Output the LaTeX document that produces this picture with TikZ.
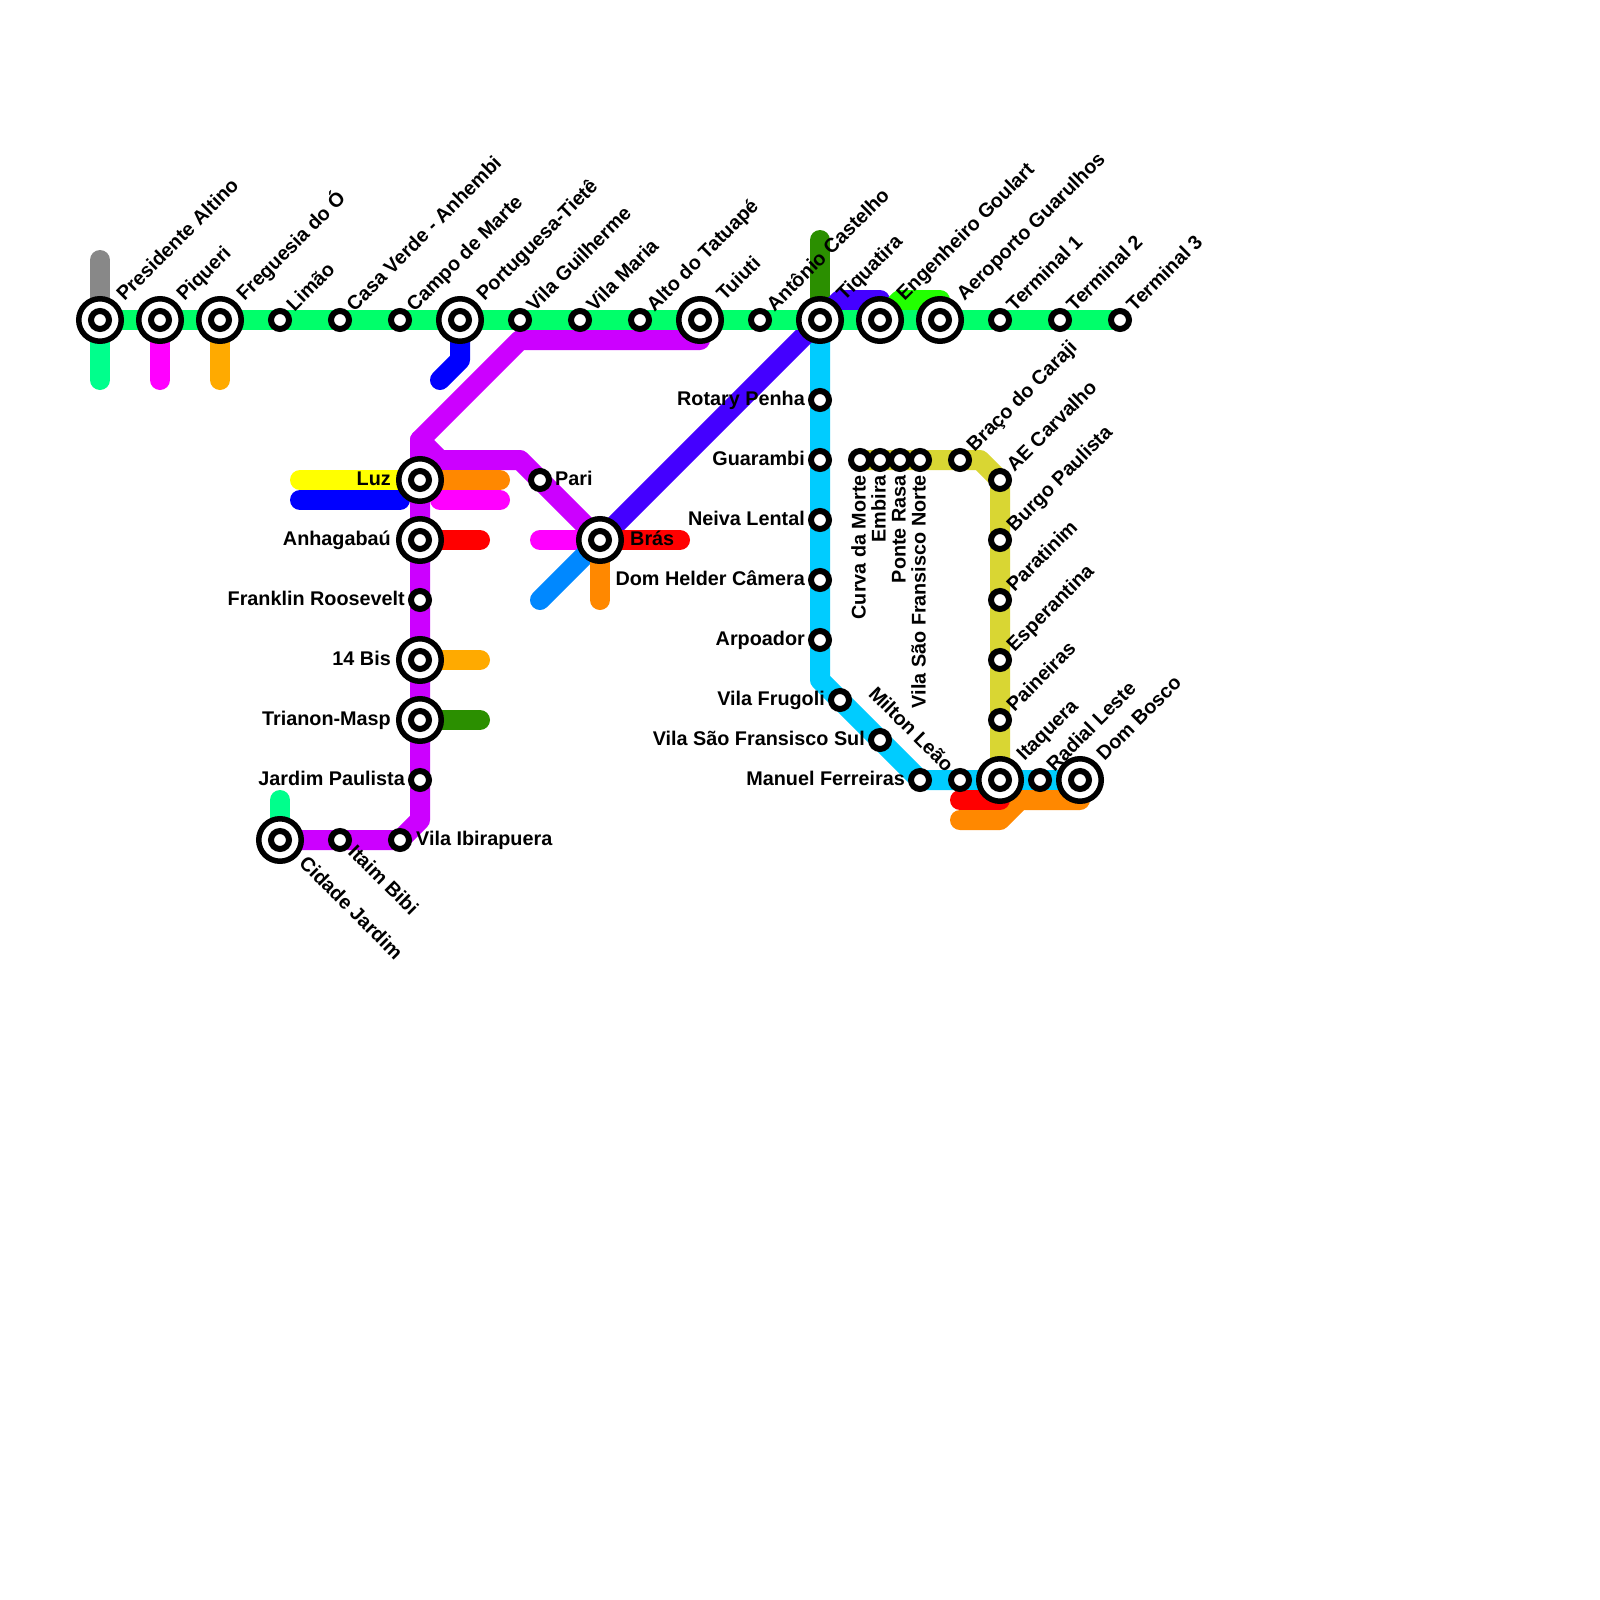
\documentclass[tikz,border=0pt]{standalone}
\usepackage{fontspec}
\setmainfont{Liberation Sans}
\definecolor{cmain}{HTML}{00FF6A}
\definecolor{cspring}{HTML}{00FF8C}
\definecolor{cgray}{HTML}{888888}
\definecolor{cmag}{HTML}{FF00FF}
\definecolor{camber}{HTML}{FFAA00}
\definecolor{cblue}{HTML}{0000FF}
\definecolor{cpurple}{HTML}{CC00FF}
\definecolor{cindigo}{HTML}{4400FF}
\definecolor{cdkgreen}{HTML}{2B8F00}
\definecolor{cbright}{HTML}{22FF00}
\definecolor{ccyan}{HTML}{00CCFF}
\definecolor{colive}{HTML}{D9D633}
\definecolor{corange}{HTML}{FF8800}
\definecolor{cazure}{HTML}{0088FF}
\definecolor{cyel}{HTML}{FFFF00}
\definecolor{cred}{HTML}{FF0000}
\pgfdeclarelayer{lines}
\pgfsetlayers{lines,main}
\tikzset{
  line/.style={line width=20pt,line cap=round,line join=round},
  smallst/.style={circle,draw=black,fill=white,line width=6pt,minimum size=18pt,inner sep=0pt},
  bigst/.style={circle,draw=black,fill=white,line width=5.5pt,minimum size=42.5pt,inner sep=0pt},
  lab/.style={inner sep=0pt,font=\fontsize{19.8}{24}\selectfont\bfseries,text=black},
  labne/.style={lab,rotate=45,anchor=base west},
  labse/.style={lab,rotate=-45,anchor=base west},
  labnw/.style={lab,rotate=-45,anchor=base east},
  labv/.style={lab,rotate=90,anchor=base east},
  labl/.style={lab,anchor=base east},
  labr/.style={lab,anchor=base west},
}
\newcommand{\sst}[3]{\node[smallst] (#1) at (#2,#3) {};}
\newcommand{\bst}[3]{\node[bigst] (#1) at (#2,#3) {};\node[smallst] (#1in) at (#1.center) {};}
\newcommand{\sne}[2]{\node[labne] (l#1) at ([shift={(14.5,-7.5)}]#1.center) {#2};}
\newcommand{\bne}[2]{\node[labne] (l#1) at ([shift={(24.5,-18)}]#1.center) {#2};}
\newcommand{\stl}[2]{\node[labl] (l#1) at ([shift={(-15,5)}]#1.center) {#2};}
\newcommand{\bgl}[2]{\node[labl] (l#1) at ([shift={(-29,5)}]#1.center) {#2};}
\newcommand{\vrl}[2]{\node[labv] (l#1) at ([shift={(5.5,15)}]#1.center) {#2};}
\begin{document}
\begin{tikzpicture}[x=1pt,y=-1pt]
\useasboundingbox (0,0) rectangle (1600,1600);
% top line stations
\bst{pa}{100}{320}\bst{pq}{160}{320}\bst{fo}{220}{320}
\sst{li}{280}{320}\sst{cv}{340}{320}\sst{cm}{400}{320}
\bst{pt}{460}{320}\sst{vg}{520}{320}\sst{vm}{580}{320}
\sst{at}{640}{320}\bst{tu}{700}{320}\sst{ac}{760}{320}
\bst{ti}{820}{320}\bst{eg}{880}{320}\bst{ag}{940}{320}
\sst{ta}{1000}{320}\sst{tb}{1060}{320}\sst{tc}{1120}{320}
% purple line
\bst{lu}{420}{480}\bst{an}{420}{540}\sst{fr}{420}{600}
\bst{bi}{420}{660}\bst{tm}{420}{720}\sst{jp}{420}{780}
\sst{vi}{400}{840}\sst{ib}{340}{840}\bst{cj}{280}{840}
\sst{pr}{540}{480}\bst{br}{600}{540}
% cyan line
\sst{rp}{820}{400}\sst{gu}{820}{460}\sst{nl}{820}{520}
\sst{dh}{820}{580}\sst{ar}{820}{640}\sst{vf}{840}{700}
\sst{vs}{880}{740}\sst{mf}{920}{780}\sst{ml}{960}{780}
\bst{it}{1000}{780}\sst{rl}{1040}{780}\bst{db}{1080}{780}
% olive line
\sst{cu}{860}{460}\sst{em}{880}{460}\sst{po}{900}{460}
\sst{vn}{920}{460}\sst{bc}{960}{460}\sst{ae}{1000}{480}
\sst{bp}{1000}{540}\sst{pn}{1000}{600}\sst{es}{1000}{660}\sst{pe}{1000}{720}
% free ends
\coordinate (e1) at (100,260);\coordinate (e2) at (100,380);
\coordinate (e3) at (160,380);\coordinate (e4) at (220,380);
\coordinate (e5) at (460,360);\coordinate (e6) at (440,380);
\coordinate (e7) at (300,480);\coordinate (e8) at (300,500);
\coordinate (e9) at (400,500);\coordinate (e10) at (500,480);
\coordinate (e11) at (440,500);\coordinate (e12) at (500,500);
\coordinate (e13) at (480,540);\coordinate (e14) at (480,660);
\coordinate (e15) at (480,720);\coordinate (e16) at (280,800);
\coordinate (e17) at (540,540);\coordinate (e18) at (680,540);
\coordinate (e19) at (540,600);\coordinate (e20) at (600,600);
\coordinate (e21) at (820,240);
\coordinate (c1) at (840,300);\coordinate (c2) at (880,300);
\coordinate (c3) at (900,300);\coordinate (c4) at (940,300);
\coordinate (c5) at (700,340);\coordinate (c6) at (520,340);
\coordinate (c7) at (420,440);\coordinate (c8) at (420,820);
\coordinate (c9) at (440,460);\coordinate (c10) at (520,460);
\coordinate (c11) at (820,680);\coordinate (c12) at (980,460);
\coordinate (c13) at (1000,800);\coordinate (c14) at (960,800);
\coordinate (c15) at (1080,800);\coordinate (c16) at (1020,800);
\coordinate (c17) at (1000,820);\coordinate (c18) at (960,820);
\begin{pgfonlayer}{lines}
\fill[white] (0,0) rectangle (1600,1600);
\draw[line,cgray] (pa.center) -- (e1);
\draw[line,cspring] (pa.center) -- (e2);
\draw[line,cmag] (pq.center) -- (e3);
\draw[line,camber] (fo.center) -- (e4);
\draw[line,cblue] (pt.center) -- (e5) -- (e6);
\draw[line,cdkgreen] (ti.center) -- (e21);
\draw[line,ccyan] (ti.center) -- (c11) -- (mf.center) -- (db.center);
\draw[line,cindigo] (br.center) -- (ti.center) -- (c1) -- (c2) -- (eg.center);
\draw[line,cbright] (eg.center) -- (c3) -- (c4) -- (ag.center);
\draw[line,cmain] (pa.center) -- (tc.center);
\draw[line,cpurple] (c5) -- (c6) -- (c7) -- (c8) -- (vi.center) -- (cj.center);
\draw[line,cpurple] (c7) -- (c9) -- (c10) -- (br.center);
\draw[line,cspring] (cj.center) -- (e16);
\draw[line,cyel] (lu.center) -- (e7);
\draw[line,cblue] (e8) -- (e9);
\draw[line,corange] (lu.center) -- (e10);
\draw[line,cmag] (e11) -- (e12);
\draw[line,cred] (an.center) -- (e13);
\draw[line,camber] (bi.center) -- (e14);
\draw[line,cdkgreen] (tm.center) -- (e15);
\draw[line,cmag] (br.center) -- (e17);
\draw[line,cred] (br.center) -- (e18);
\draw[line,cazure] (br.center) -- (e19);
\draw[line,corange] (br.center) -- (e20);
\draw[line,colive] (cu.center) -- (c12) -- (ae.center) -- (it.center);
\draw[line,corange] (db.center) -- (c15) -- (c16) -- (c17) -- (c18);
\draw[line,cred] (it.center) -- (c13) -- (c14);
\end{pgfonlayer}
% labels
\bne{pa}{Presidente Altino}\bne{pq}{Piqueri}\bne{fo}{Freguesia do Ó}
\sne{li}{Limão}\sne{cv}{Casa Verde - Anhembi}\sne{cm}{Campo de Marte}
\bne{pt}{Portuguesa-Tietê}\sne{vg}{Vila Guilherme}\sne{vm}{Vila Maria}
\sne{at}{Alto do Tatuapé}\bne{tu}{Tuiuti}\sne{ac}{Antônio Castelho}
\bne{ti}{Tiquatira}\bne{eg}{Engenheiro Goulart}\bne{ag}{Aeroporto Guarulhos}
\sne{ta}{Terminal 1}\sne{tb}{Terminal 2}\sne{tc}{Terminal 3}
\bgl{lu}{Luz}\bgl{an}{Anhagabaú}\stl{fr}{Franklin Roosevelt}
\bgl{bi}{14 Bis}\bgl{tm}{Trianon-Masp}\stl{jp}{Jardim Paulista}
\node[labr] (lvi) at ([shift={(16,5)}]vi.center) {Vila Ibirapuera};
\node[labse] (lib) at ([shift={(7,13)}]ib.center) {Itaim Bibi};
\node[labse] (lcj) at ([shift={(18,24)}]cj.center) {Cidade Jardim};
\node[labr] (lpr) at ([shift={(15,5)}]pr.center) {Pari};
\node[labr] (lbr) at ([shift={(30,5)}]br.center) {Brás};
\stl{rp}{Rotary Penha}\stl{gu}{Guarambi}\stl{nl}{Neiva Lental}
\stl{dh}{Dom Helder Câmera}\stl{ar}{Arpoador}\stl{vf}{Vila Frugoli}
\stl{vs}{Vila São Fransisco Sul}\stl{mf}{Manuel Ferreiras}
\node[labnw] (lml) at ([shift={(-14.5,-7)}]ml.center) {Milton Leão};
\bne{it}{Itaquera}\sne{rl}{Radial Leste}\bne{db}{Dom Bosco}
\vrl{cu}{Curva da Morte}\vrl{em}{Embira}\vrl{po}{Ponte Rasa}\vrl{vn}{Vila São Fransisco Norte}
\sne{bc}{Braço do Caraji}\sne{ae}{AE Carvalho}\sne{bp}{Burgo Paulista}
\sne{pn}{Paratinim}\sne{es}{Esperantina}\sne{pe}{Paineiras}
\end{tikzpicture}
\end{document}
